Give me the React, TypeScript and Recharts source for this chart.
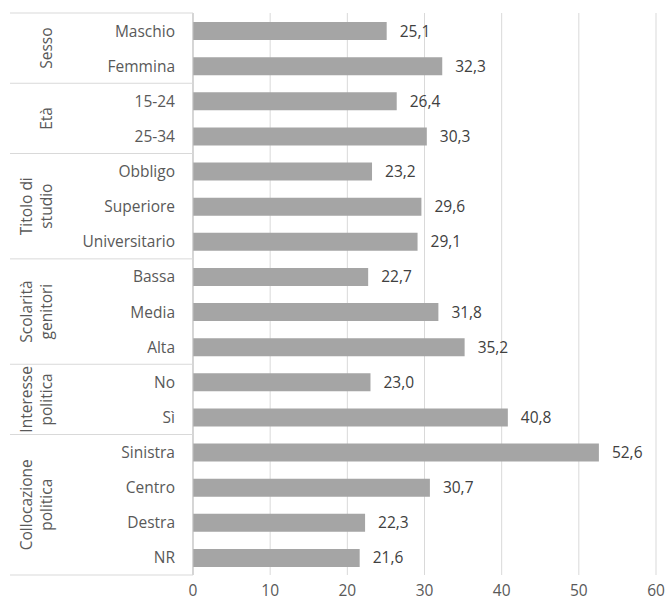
import { Bar, BarChart, CartesianGrid, LabelList, XAxis, YAxis } from 'recharts'

const categories = [
  'Maschio', 'Femmina',
  '15-24', '25-34',
  'Obbligo', 'Superiore', 'Universitario',
  'Bassa', 'Media', 'Alta',
  'No', 'Sì',
  'Sinistra', 'Centro', 'Destra', 'NR',
]
const values = [25.1, 32.3, 26.4, 30.3, 23.2, 29.6, 29.1, 22.7, 31.8, 35.2, 23.0, 40.8, 52.6, 30.7, 22.3, 21.6]
const groups = [
  { lines: ['Sesso'], size: 2 },
  { lines: ['Età'], size: 2 },
  { lines: ['Titolo di', 'studio'], size: 3 },
  { lines: ['Scolarità', 'genitori'], size: 3 },
  { lines: ['Interesse', 'politica'], size: 2 },
  { lines: ['Collocazione', 'politica'], size: 4 },
]
const xTicks = [0, 10, 20, 30, 40, 50, 60]

const data = categories.map((name, i) => ({ name, value: values[i] }))

const W = 666
const H = 605
const TOP = 13
const BOTTOM = 30
const AXIS_W = 193
const FONT = '"Open Sans", sans-serif'
const FS = 15.5
const TEXT = '#595959'

// group start indexes
const groupStarts: number[] = []
groups.reduce((acc, g) => {
  groupStarts.push(acc)
  return acc + g.size
}, 0)

function CategoryTick(props: any) {
  const { x, y, payload, index } = props
  const band = (H - TOP - BOTTOM) / categories.length
  const gi = groupStarts.indexOf(index)
  const extra: any[] = []
  if (gi >= 0) {
    const g = groups[gi]
    const top = y - band / 2
    const cy = top + (g.size * band) / 2
    extra.push(<line key="sep" x1={10} x2={AXIS_W} y1={top} y2={top} stroke="#d9d9d9" />)
    if (gi === groups.length - 1) {
      const bottom = top + g.size * band
      extra.push(<line key="sepb" x1={10} x2={AXIS_W} y1={bottom} y2={bottom} stroke="#d9d9d9" />)
    }
    const xs = g.lines.length === 1 ? [46] : [26, 46]
    g.lines.forEach((ln, li) => {
      extra.push(
        <text
          key={'g' + li}
          x={xs[li]}
          y={cy}
          transform={`rotate(-90, ${xs[li]}, ${cy})`}
          textAnchor="middle"
          dominantBaseline="central"
          fill={TEXT}
          fontSize={FS}
          fontFamily={FONT}
        >
          {ln}
        </text>
      )
    })
  }
  return (
    <g>
      {extra}
      <text x={x - 10} y={y} textAnchor="end" dominantBaseline="central" fill={TEXT} fontSize={FS} fontFamily={FONT}>
        {payload.value}
      </text>
    </g>
  )
}

export default function App() {
  return (
    <div style={{ position: 'absolute', left: 0, top: 0, background: '#fff' }}>
      <BarChart
        width={W}
        height={H}
        data={data}
        layout="vertical"
        margin={{ top: TOP, right: 10, bottom: 0, left: 0 }}
        barCategoryGap={0}
      >
        <CartesianGrid horizontal={false} stroke="#d9d9d9" />
        <XAxis
          type="number"
          domain={[0, 60]}
          ticks={xTicks}
          axisLine={false}
          tickLine={false}
          height={BOTTOM}
          tick={{ fill: TEXT, fontSize: FS, fontFamily: FONT, dy: 2 }}
          interval={0}
        />
        <YAxis
          type="category"
          dataKey="name"
          width={AXIS_W}
          axisLine={{ stroke: '#bfbfbf' }}
          tickLine={false}
          interval={0}
          tick={<CategoryTick />}
        />
        <Bar dataKey="value" fill="#a5a5a5" barSize={18} isAnimationActive={false}>
          <LabelList
            dataKey="value"
            position="right"
            offset={13}
            formatter={(v: any) => Number(v).toFixed(1).replace('.', ',')}
            style={{ fill: '#404040', fontSize: FS, fontFamily: FONT }}
          />
        </Bar>
      </BarChart>
    </div>
  )
}
